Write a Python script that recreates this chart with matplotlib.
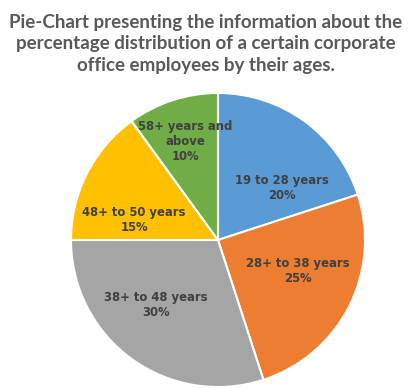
import matplotlib
matplotlib.use("Agg")
import matplotlib.pyplot as plt

categories = ["19 to 28 years", "28+ to 38 years", "38+ to 48 years",
              "48+ to 50 years", "58+ years and\nabove"]
values = [20, 25, 30, 15, 10]
colors = ["#5B9BD5", "#ED7D31", "#A5A5A5", "#FFC000", "#70AD47"]
label_pos = [(0.435, 0.354), (0.544, -0.211), (-0.422, -0.442),
             (-0.571, 0.136), (-0.224, 0.667)]

W, H = 409, 388
fig = plt.figure(figsize=(W / 100, H / 100), dpi=100)
cx, cy, r = 218, 240, 147
ax = fig.add_axes([(cx - r) / W, (H - cy - r) / H, 2 * r / W, 2 * r / H])
ax.pie(values, colors=colors, startangle=90, counterclock=False,
       wedgeprops=dict(edgecolor="white", linewidth=1.5))
ax.set_xlim(-1, 1)
ax.set_ylim(-1, 1)
for cat, v, (x, y) in zip(categories, values, label_pos):
    ax.text(x, y, f"{cat}\n{v}%", ha="center", va="center",
            fontsize=8.4, fontweight="bold", color="#404040",
            family="DejaVu Sans", linespacing=1.2)

fig.text(206 / W, 1 - 44 / H,
         "Pie-Chart presenting the information about the\n"
         "percentage distribution of a certain corporate\n"
         "office employees by their ages.",
         ha="center", va="center", fontsize=13.5, fontweight="bold",
         color="#595959", family="Lato", linespacing=1.33)
fig.savefig("out.png", dpi=100)
